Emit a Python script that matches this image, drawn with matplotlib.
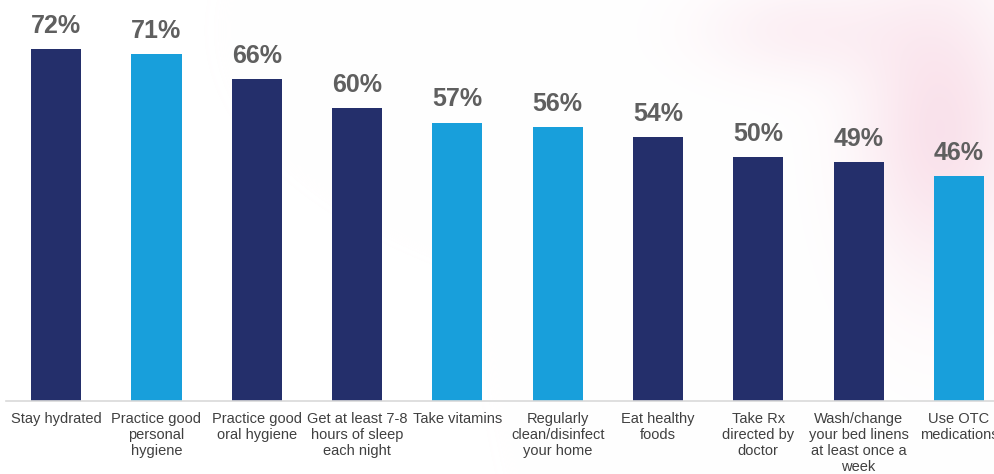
import numpy as np
import matplotlib.pyplot as plt

# Datos de la gráfica
categorias = [
    "Stay hydrated",
    "Practice good\npersonal\nhygiene",
    "Practice good\noral hygiene",
    "Get at least 7-8\nhours of sleep\neach night",
    "Take vitamins",
    "Regularly\nclean/disinfect\nyour home",
    "Eat healthy\nfoods",
    "Take Rx\ndirected by\ndoctor",
    "Wash/change\nyour bed linens\nat least once a\nweek",
    "Use OTC\nmedications",
]
porcentajes = [72, 71, 66, 60, 57, 56, 54, 50, 49, 46]
resaltado = [False, True, False, False, True, True, False, False, False, True]

azul_oscuro = "#242f6b"
azul_claro = "#189fdb"
colores = [azul_claro if r else azul_oscuro for r in resaltado]

plt.rcParams['font.family'] = ['Liberation Sans', 'DejaVu Sans']

fig = plt.figure(figsize=(9.94, 4.74), dpi=100)

# fondo rosado difuso a la derecha
fondo = fig.add_axes([0, 0, 1, 1], zorder=-1)
yy, xx = np.mgrid[0:474, 0:994]
mancha = np.exp(-(((xx - 940) / 80.0) ** 2 + ((yy - 130) / 150.0) ** 2))
mancha += 0.5 * np.exp(-(((xx - 800) / 100.0) ** 2 + ((yy - 30) / 50.0) ** 2))
mancha = np.clip(mancha, 0, 1) * 0.3
img = np.ones((474, 994, 3))
rosa = np.array([0.93, 0.62, 0.74])
img = img * (1 - mancha[..., None]) + rosa * mancha[..., None]
fondo.imshow(img, aspect='auto')
fondo.axis('off')

ax = fig.add_axes([6 / 994, 73 / 474, 988 / 994, 401 / 474])
ax.patch.set_alpha(0)
x = np.arange(len(categorias))
barras = ax.bar(x, porcentajes, width=0.5, color=colores)

for xi, v in zip(x, porcentajes):
    ax.annotate(f"{v}%", (xi, v), xytext=(0, 8), textcoords='offset points',
                ha='center', va='bottom', fontsize=18, fontweight='bold',
                color='#5f5f5f')

ax.set_xlim(-0.5, 9.35)
ax.set_ylim(0, 82.1)
ax.set_xticks(x)
ax.set_xticklabels(categorias, fontsize=10.5, color='#404040', linespacing=1.18)
ax.tick_params(axis='x', length=0, pad=8)
ax.set_yticks([])
for lado in ['top', 'right', 'left']:
    ax.spines[lado].set_visible(False)
ax.spines['bottom'].set_color('#d9d9d9')
ax.spines['bottom'].set_linewidth(1.2)

fig.savefig("out.png", dpi=100)
